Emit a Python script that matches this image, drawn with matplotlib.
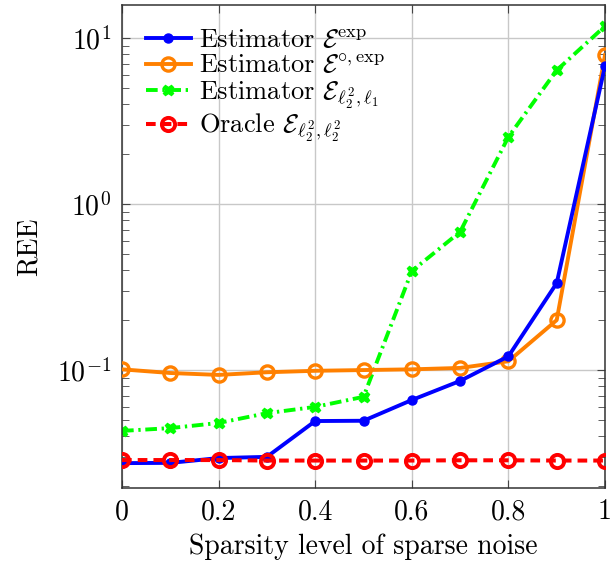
import matplotlib
matplotlib.use("Agg")
import matplotlib.pyplot as plt
from matplotlib.ticker import LogLocator, NullFormatter

plt.rcParams['font.family'] = ['cmr10']
plt.rcParams['mathtext.fontset'] = 'cm'
plt.rcParams['axes.formatter.use_mathtext'] = True

x = [0, 0.1, 0.2, 0.3, 0.4, 0.5, 0.6, 0.7, 0.8, 0.9, 1.0]
est_exp = [0.0275, 0.0276, 0.0295, 0.030, 0.0493, 0.0495, 0.066, 0.086, 0.121, 0.334, 6.8]
est_circ_exp = [0.101, 0.096, 0.0935, 0.097, 0.099, 0.100, 0.101, 0.103, 0.113, 0.20, 7.9]
est_l2_l1 = [0.043, 0.0447, 0.048, 0.055, 0.060, 0.069, 0.395, 0.68, 2.54, 6.4, 11.8]
oracle = [0.0287, 0.0287, 0.0287, 0.0285, 0.0285, 0.0285, 0.0285, 0.0286, 0.0286, 0.0285, 0.0285]

labels = [r'Estimator $\mathcal{E}^{\mathrm{exp}}$',
          r'Estimator $\mathcal{E}^{\circ,\mathrm{exp}}$',
          r'Estimator $\mathcal{E}_{\ell_2^2,\ell_1}$',
          r'Oracle $\mathcal{E}_{\ell_2^2,\ell_2^2}$']

fig = plt.figure(figsize=(6.11, 5.68), dpi=100)
ax = fig.add_axes([0.1997, 0.141, 0.7905, 0.850])

ax.plot(x, est_exp, color='#0000ff', lw=2.8, marker='o', ms=6.5, label=labels[0], zorder=4)
ax.plot(x, est_circ_exp, color='#ff8000', lw=2.8, marker='o', ms=9.5, mfc='none', mew=2.4, label=labels[1], zorder=3)
ax.plot(x, est_l2_l1, color='#00ff00', lw=2.8, ls=(0, (3, 1.2, 0.6, 1.2)), marker='X', ms=7.5, label=labels[2], zorder=2)
ax.plot(x, oracle, color='#ff0000', lw=2.9, ls=(0, (2.4, 1.5)), marker='o', ms=9.5, mfc='none', mew=2.8, label=labels[3], zorder=5)

ax.set_yscale('log')
ax.set_xlim(0, 1)
ax.set_ylim(0.0195, 15.8)
ax.set_xticks([0, 0.2, 0.4, 0.6, 0.8, 1.0])
ax.set_xticklabels(['0', '0.2', '0.4', '0.6', '0.8', '1'])
ax.yaxis.set_major_locator(LogLocator(base=10, numticks=10))
ax.yaxis.set_minor_locator(LogLocator(base=10, subs=range(2, 10), numticks=20))
ax.yaxis.set_minor_formatter(NullFormatter())
ax.tick_params(which='both', direction='in', top=True, right=True, labelsize=20, color='#444444')
ax.tick_params(which='major', length=6, pad=8)
ax.tick_params(which='minor', length=5)
ax.grid(True, which='major', color='#c8c8c8', lw=1.0)
ax.set_xlabel('Sparsity level of sparse noise', fontsize=20, labelpad=6)
ax.set_ylabel('REE', fontsize=20, labelpad=10)
for s in ax.spines.values():
    s.set_linewidth(1.1)
    s.set_color('#333333')

ax.legend(loc='upper left', frameon=False, fontsize=19, handlelength=1.7, labelspacing=0.05,
          borderaxespad=0.45, handletextpad=0.3, borderpad=0.45)

fig.savefig('out.png', dpi=100)
